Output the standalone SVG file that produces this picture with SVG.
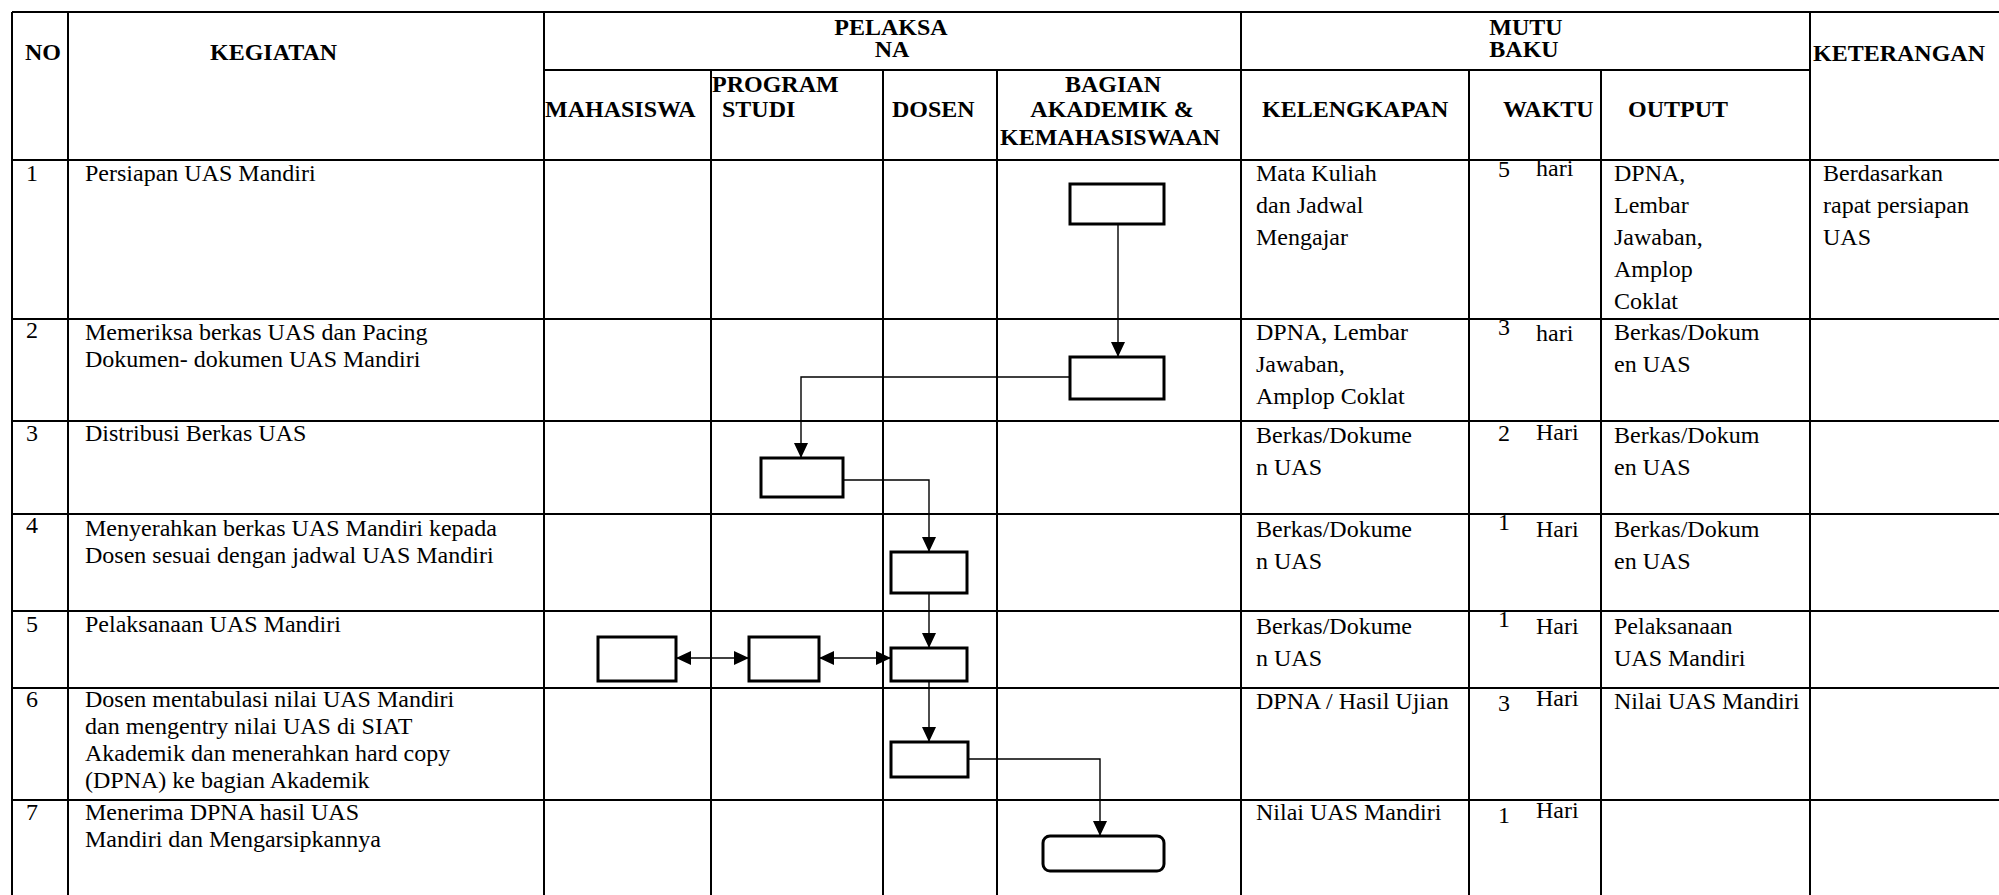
<svg xmlns="http://www.w3.org/2000/svg" width="1999" height="895" viewBox="0 0 1999 895">
<defs>
<style>
.g{stroke:#000;stroke-width:2;fill:none}
.h{font-family:"Liberation Serif","Times New Roman",serif;font-size:24px;font-weight:bold;fill:#000}
.t{font-family:"Liberation Serif","Times New Roman",serif;font-size:24px;fill:#000}
.m{text-anchor:middle}
.box{fill:#fff;stroke:#000;stroke-width:3}
.c{fill:none;stroke:#000;stroke-width:1.4}
</style>
<marker id="ah" markerUnits="userSpaceOnUse" markerWidth="15" markerHeight="14" refX="15" refY="7" orient="auto-start-reverse" viewBox="0 0 15 14">
<path d="M0,0 L15,7 L0,14 z" fill="#000"/>
</marker>
</defs>
<rect width="1999" height="895" fill="#fff"/>
<g id="grid" class="g">
<path d="M12,12 H1999 M544,70 H1810 M12,160 H1999 M12,319 H1999 M12,421 H1999 M12,514 H1999 M12,611 H1999 M12,688 H1999 M12,800 H1999"/>
<path d="M12,12 V895 M68,12 V895 M544,12 V895 M1241,12 V895 M1810,12 V895 M711,70 V895 M883,70 V895 M997,70 V895 M1469,70 V895 M1601,70 V895"/>
</g>
<g id="header">
<text class="h" x="25" y="60">NO</text>
<text class="h" x="210" y="60">KEGIATAN</text>
<text class="h m" x="891" y="35">PELAKSA</text>
<text class="h m" x="892" y="57">NA</text>
<text class="h m" x="1526" y="35">MUTU</text>
<text class="h m" x="1524" y="57">BAKU</text>
<text class="h" x="1813" y="61">KETERANGAN</text>
<text class="h" x="545" y="117">MAHASISWA</text>
<text class="h" x="712" y="92">PROGRAM</text>
<text class="h" x="722" y="117">STUDI</text>
<text class="h" x="892" y="117">DOSEN</text>
<text class="h m" x="1113" y="92">BAGIAN</text>
<text class="h m" x="1112" y="117">AKADEMIK &amp;</text>
<text class="h m" x="1110" y="145">KEMAHASISWAAN</text>
<text class="h" x="1262" y="117">KELENGKAPAN</text>
<text class="h" x="1503" y="117">WAKTU</text>
<text class="h" x="1628" y="117">OUTPUT</text>
</g>
<g id="body">
<text class="t" x="26" y="181">1</text>
<text class="t" x="26" y="338">2</text>
<text class="t" x="26" y="441">3</text>
<text class="t" x="26" y="533">4</text>
<text class="t" x="26" y="632">5</text>
<text class="t" x="26" y="707">6</text>
<text class="t" x="26" y="820">7</text>
<text class="t" x="85" y="181">Persiapan UAS Mandiri</text>
<text class="t" x="85" y="340">Memeriksa berkas UAS dan Pacing</text>
<text class="t" x="85" y="367">Dokumen- dokumen UAS Mandiri</text>
<text class="t" x="85" y="441">Distribusi Berkas UAS</text>
<text class="t" x="85" y="536">Menyerahkan berkas UAS Mandiri kepada</text>
<text class="t" x="85" y="563">Dosen sesuai dengan jadwal UAS Mandiri</text>
<text class="t" x="85" y="632">Pelaksanaan UAS Mandiri</text>
<text class="t" x="85" y="707">Dosen mentabulasi nilai UAS Mandiri</text>
<text class="t" x="85" y="734">dan mengentry nilai UAS di SIAT</text>
<text class="t" x="85" y="761">Akademik dan menerahkan hard copy</text>
<text class="t" x="85" y="788">(DPNA) ke bagian Akademik</text>
<text class="t" x="85" y="820">Menerima DPNA hasil UAS</text>
<text class="t" x="85" y="847">Mandiri dan Mengarsipkannya</text>

<text class="t" x="1256" y="181">Mata Kuliah</text>
<text class="t" x="1256" y="213">dan Jadwal</text>
<text class="t" x="1256" y="245">Mengajar</text>
<text class="t" x="1256" y="340">DPNA, Lembar</text>
<text class="t" x="1256" y="372">Jawaban,</text>
<text class="t" x="1256" y="404">Amplop Coklat</text>
<text class="t" x="1256" y="443">Berkas/Dokume</text>
<text class="t" x="1256" y="475">n UAS</text>
<text class="t" x="1256" y="537">Berkas/Dokume</text>
<text class="t" x="1256" y="569">n UAS</text>
<text class="t" x="1256" y="634">Berkas/Dokume</text>
<text class="t" x="1256" y="666">n UAS</text>
<text class="t" x="1256" y="709">DPNA / Hasil Ujian</text>
<text class="t" x="1256" y="820">Nilai UAS Mandiri</text>

<text class="t" x="1498" y="177">5</text><text class="t" x="1536" y="176">hari</text>
<text class="t" x="1498" y="335">3</text><text class="t" x="1536" y="341">hari</text>
<text class="t" x="1498" y="441">2</text><text class="t" x="1536" y="440">Hari</text>
<text class="t" x="1498" y="530">1</text><text class="t" x="1536" y="537">Hari</text>
<text class="t" x="1498" y="627">1</text><text class="t" x="1536" y="634">Hari</text>
<text class="t" x="1498" y="711">3</text><text class="t" x="1536" y="706">Hari</text>
<text class="t" x="1498" y="823">1</text><text class="t" x="1536" y="818">Hari</text>

<text class="t" x="1614" y="181">DPNA,</text>
<text class="t" x="1614" y="213">Lembar</text>
<text class="t" x="1614" y="245">Jawaban,</text>
<text class="t" x="1614" y="277">Amplop</text>
<text class="t" x="1614" y="309">Coklat</text>
<text class="t" x="1614" y="340">Berkas/Dokum</text>
<text class="t" x="1614" y="372">en UAS</text>
<text class="t" x="1614" y="443">Berkas/Dokum</text>
<text class="t" x="1614" y="475">en UAS</text>
<text class="t" x="1614" y="537">Berkas/Dokum</text>
<text class="t" x="1614" y="569">en UAS</text>
<text class="t" x="1614" y="634">Pelaksanaan</text>
<text class="t" x="1614" y="666">UAS Mandiri</text>
<text class="t" x="1614" y="709">Nilai UAS Mandiri</text>

<text class="t" x="1823" y="181">Berdasarkan</text>
<text class="t" x="1823" y="213">rapat persiapan</text>
<text class="t" x="1823" y="245">UAS</text>
</g>
<g id="connectors">
<path class="c" d="M1118,224 V357" marker-end="url(#ah)"/>
<path class="c" d="M1070,377 H801 V458" marker-end="url(#ah)"/>
<path class="c" d="M843,480 H929 V552" marker-end="url(#ah)"/>
<path class="c" d="M929,593 V648" marker-end="url(#ah)"/>
<path class="c" d="M929,681 V742" marker-end="url(#ah)"/>
<path class="c" d="M968,759 H1100 V836" marker-end="url(#ah)"/>
<path class="c" d="M676,658 H749" marker-start="url(#ah)" marker-end="url(#ah)"/>
<path class="c" d="M819,658 H891" marker-start="url(#ah)" marker-end="url(#ah)"/>
</g>
<g id="node1"><rect class="box" x="1070" y="184" width="94" height="40"/></g>
<g id="node2"><rect class="box" x="1070" y="357" width="94" height="42"/></g>
<g id="node3"><rect class="box" x="761" y="458" width="82" height="39"/></g>
<g id="node4"><rect class="box" x="891" y="552" width="76" height="41"/></g>
<g id="node5a"><rect class="box" x="598" y="637" width="78" height="44"/></g>
<g id="node5b"><rect class="box" x="749" y="637" width="70" height="44"/></g>
<g id="node5c"><rect class="box" x="891" y="648" width="76" height="33"/></g>
<g id="node6"><rect class="box" x="891" y="742" width="77" height="35"/></g>
<g id="node7"><rect class="box" x="1043" y="836" width="121" height="35" rx="7"/></g>
</svg>
